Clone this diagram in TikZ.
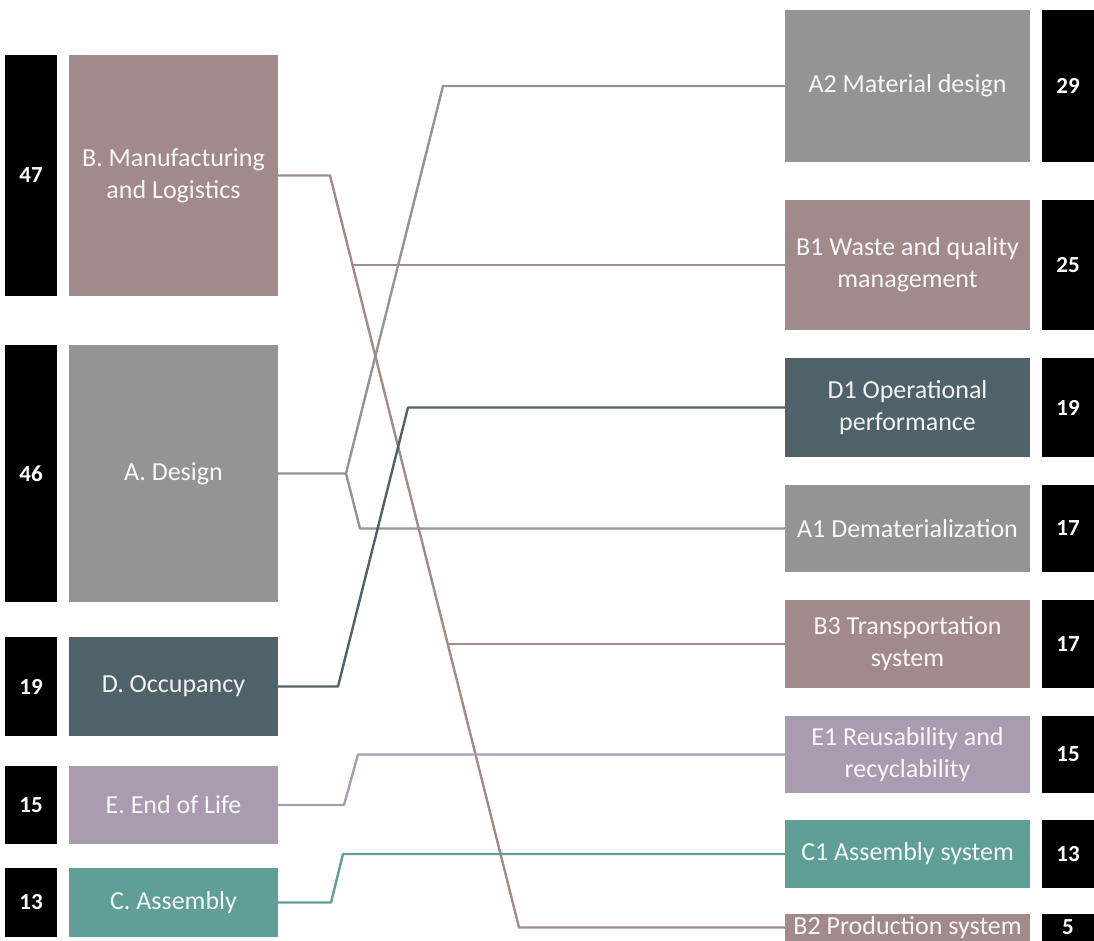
\documentclass[tikz,border=0pt]{standalone}
\usepackage{fontspec}
\setmainfont{Carlito}
\usepackage{tikz}

\definecolor{mfgrose}{HTML}{A38A8A}
\definecolor{designgray}{HTML}{949494}
\definecolor{occslate}{HTML}{4F6169}
\definecolor{eollilac}{HTML}{A99BB0}
\definecolor{asmteal}{HTML}{5F9F98}

\begin{document}
\begin{tikzpicture}[x=1pt, y=-1pt]
    % Widths of the boxes (1 unit = 1 pixel of the reference)
    \def\bw{52}
    \def\lw{209}
    \def\rw{245}
    % Style definitions
    \tikzset{
        % count bar
        count/.style={fill=black, text=white, font=\fontsize{23}{26}\selectfont\bfseries,
            minimum width=\bw, minimum height=#1, inner sep=0pt},
        % category box on the left
        category/.style args={#1|#2}{fill=#1, text=white!93!#1, minimum width=\lw,
            minimum height=#2, inner sep=2pt, align=center,
            font=\fontsize{26}{32}\selectfont},
        % sub-category box on the right
        subcat/.style args={#1|#2}{fill=#1, text=white!93!#1, minimum width=\rw,
            minimum height=#2, inner sep=2pt, align=center,
            font=\fontsize{26}{32}\selectfont},
        % connectors
        link/.style={draw=#1, line width=2.4pt, line join=round}
    }
    \useasboundingbox (0,0) rectangle (1094,941);

    % Left column: categories
    \node[count=241] (nB) at (31,175.5) {47};
    \node[category={mfgrose|241}] (B) at (173.5,175.5) {B. Manufacturing\\and Logistics};
    \node[count=257] (nA) at (31,473.5) {46};
    \node[category={designgray|257}] (A) at (173.5,473.5) {A. Design};
    \node[count=99] (nD) at (31,686.5) {19};
    \node[category={occslate|99}] (D) at (173.5,686.5) {D. Occupancy};
    \node[count=78] (nE) at (31,805) {15};
    \node[category={eollilac|78}] (E) at (173.5,805) {E. End of Life};
    \node[count=69] (nC) at (31,902.5) {13};
    \node[category={asmteal|69}] (C) at (173.5,902.5) {C. Assembly};

    % Right column: sub-categories
    \node[subcat={designgray|152}] (A2) at (907.5,86) {A2 Material design};
    \node[count=152] (nA2) at (1068,86) {29};
    \node[subcat={mfgrose|130}] (B1) at (907.5,265) {B1 Waste and quality\\management};
    \node[count=130] (nB1) at (1068,265) {25};
    \node[subcat={occslate|99}] (D1) at (907.5,407.5) {D1 Operational\\performance};
    \node[count=99] (nD1) at (1068,407.5) {19};
    \node[subcat={designgray|87}] (A1) at (907.5,528.5) {A1 Dematerialization};
    \node[count=87] (nA1) at (1068,528.5) {17};
    \node[subcat={mfgrose|88}] (B3) at (907.5,644) {B3 Transportation\\system};
    \node[count=88] (nB3) at (1068,644) {17};
    \node[subcat={eollilac|77}] (E1) at (907.5,754.5) {E1 Reusability and\\recyclability};
    \node[count=77] (nE1) at (1068,754.5) {15};
    \node[subcat={asmteal|68}] (C1) at (907.5,854) {C1 Assembly system};
    \node[count=68] (nC1) at (1068,854) {13};
    \node[subcat={mfgrose|27}] (B2) at (907.5,927.5) {B2 Production system};
    \node[count=27] (nB2) at (1068,927.5) {5};

    % Bends of the connectors
    \coordinate (bB1) at (330,175.5);
    \coordinate (bB2) at (519,927.5);
    \coordinate (jB1) at (352.5,265);
    \coordinate (jB3) at (447.5,644);
    \coordinate (bA) at (346,473.5);
    \coordinate (bA2) at (443,86);
    \coordinate (bA1) at (360,528.5);
    \coordinate (bD) at (338,686.5);
    \coordinate (bD1) at (408,407.5);
    \coordinate (bE) at (344,805);
    \coordinate (bE1) at (358,754.5);
    \coordinate (bC) at (331,902.5);
    \coordinate (bC1) at (343,854);

    % Connectors between categories and sub-categories
    \draw[link=designgray] (A.east) -- (bA) -- (bA2) -- (A2.west);
    \draw[link=designgray] (bA) -- (bA1) -- (A1.west);
    \draw[link=mfgrose] (B.east) -- (bB1) -- (bB2) -- (B2.west);
    \draw[link=mfgrose] (jB1) -- (B1.west);
    \draw[link=mfgrose] (jB3) -- (B3.west);
    \draw[link=occslate] (D.east) -- (bD) -- (bD1) -- (D1.west);
    \draw[link=eollilac] (E.east) -- (bE) -- (bE1) -- (E1.west);
    \draw[link=asmteal] (C.east) -- (bC) -- (bC1) -- (C1.west);
\end{tikzpicture}
\end{document}
